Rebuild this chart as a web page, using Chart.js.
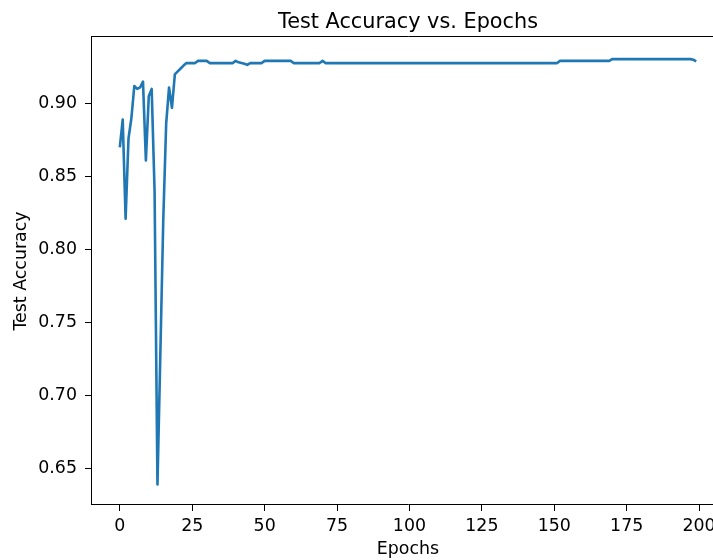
<!DOCTYPE html>
<html>
<head>
<meta charset="utf-8">
<script src="https://cdn.jsdelivr.net/npm/chart.js@4/dist/chart.umd.min.js"></script>
<style>
  html, body { margin: 0; padding: 0; overflow: hidden; background: #fff; width: 713px; height: 560px; }
  canvas { display: block; }
</style>
</head>
<body>
<canvas id="c" width="725" height="560" style="width:725px;height:560px"></canvas>
<script>
// ---- data ----
const chartTitle = 'Test Accuracy vs. Epochs';
const xAxisLabel = 'Epochs';
const yAxisLabel = 'Test Accuracy';

const epochs = Array.from({ length: 200 }, (_, i) => i);

const testAccuracy = [
  0.870, 0.889, 0.821, 0.876, 0.890, 0.912, 0.910, 0.911, 0.915, 0.861,
  0.905, 0.910, 0.840, 0.639, 0.729, 0.820, 0.886, 0.911, 0.897, 0.920,
  0.922, 0.924, 0.926, 0.9277, 0.9277, 0.9277, 0.9277, 0.9292, 0.9292, 0.9292,
  0.9292, 0.9277, 0.9277, 0.9277, 0.9277, 0.9277, 0.9277, 0.9277, 0.9277, 0.9277,
  0.9292, 0.9282, 0.9277, 0.9272, 0.9265, 0.9277, 0.9277, 0.9277, 0.9277, 0.9277,
  0.9292, 0.9292, 0.9292, 0.9292, 0.9292, 0.9292, 0.9292, 0.9292, 0.9292, 0.9292,
  0.9277, 0.9277, 0.9277, 0.9277, 0.9277, 0.9277, 0.9277, 0.9277, 0.9277, 0.9277,
  0.9292, 0.9277, 0.9277, 0.9277, 0.9277, 0.9277, 0.9277, 0.9277, 0.9277, 0.9277,
  0.9277, 0.9277, 0.9277, 0.9277, 0.9277, 0.9277, 0.9277, 0.9277, 0.9277, 0.9277,
  0.9277, 0.9277, 0.9277, 0.9277, 0.9277, 0.9277, 0.9277, 0.9277, 0.9277, 0.9277,
  0.9277, 0.9277, 0.9277, 0.9277, 0.9277, 0.9277, 0.9277, 0.9277, 0.9277, 0.9277,
  0.9277, 0.9277, 0.9277, 0.9277, 0.9277, 0.9277, 0.9277, 0.9277, 0.9277, 0.9277,
  0.9277, 0.9277, 0.9277, 0.9277, 0.9277, 0.9277, 0.9277, 0.9277, 0.9277, 0.9277,
  0.9277, 0.9277, 0.9277, 0.9277, 0.9277, 0.9277, 0.9277, 0.9277, 0.9277, 0.9277,
  0.9277, 0.9277, 0.9277, 0.9277, 0.9277, 0.9277, 0.9277, 0.9277, 0.9277, 0.9277,
  0.9277, 0.9277, 0.9292, 0.9292, 0.9292, 0.9292, 0.9292, 0.9292, 0.9292, 0.9292,
  0.9292, 0.9292, 0.9292, 0.9292, 0.9292, 0.9292, 0.9292, 0.9292, 0.9292, 0.9292,
  0.9304, 0.9304, 0.9304, 0.9304, 0.9304, 0.9304, 0.9304, 0.9304, 0.9304, 0.9304,
  0.9304, 0.9304, 0.9304, 0.9304, 0.9304, 0.9304, 0.9304, 0.9304, 0.9304, 0.9304,
  0.9304, 0.9304, 0.9304, 0.9304, 0.9304, 0.9304, 0.9304, 0.9304, 0.9300, 0.9288
];

const xTickValues = [0, 25, 50, 75, 100, 125, 150, 175, 200];
const yTickValues = [0.65, 0.70, 0.75, 0.80, 0.85, 0.90];

// ---- chart ----
const FONT = "'DejaVu Sans', sans-serif";
const X_MIN = -9.95, X_MAX = 208.95;
const Y_MIN = 0.6249, Y_MAX = 0.9456;

new Chart(document.getElementById('c').getContext('2d'), {
  type: 'line',
  data: {
    datasets: [{
      data: epochs.map((e, i) => ({ x: e, y: testAccuracy[i] })),
      borderColor: '#1f77b4',
      borderWidth: 2.6,
      pointRadius: 0,
      pointHoverRadius: 0,
      tension: 0,
      fill: false,
      borderJoinStyle: 'round',
      borderCapStyle: 'butt'
    }]
  },
  options: {
    responsive: false,
    animation: false,
    devicePixelRatio: 1,
    layout: { padding: 0 },
    plugins: {
      legend: { display: false },
      tooltip: { enabled: false },
      title: {
        display: true,
        text: chartTitle,
        fullSize: false,
        color: '#000',
        font: { family: FONT, size: 20.8, weight: 'normal' },
        padding: { top: 10, bottom: 2 }
      }
    },
    scales: {
      x: {
        type: 'linear',
        position: 'bottom',
        min: X_MIN,
        max: X_MAX,
        afterBuildTicks: s => { s.ticks = xTickValues.map(v => ({ value: v })); },
        afterFit: s => { s.height = 55; },
        grid: { display: true, drawOnChartArea: false, drawTicks: true, tickLength: 6, color: '#000', tickColor: '#000', lineWidth: 1 },
        border: { display: true, color: '#000', width: 1 },
        ticks: { color: '#000', font: { family: FONT, size: 17.4 }, padding: 5, maxRotation: 0, autoSkip: false, callback: v => String(v) },
        title: { display: true, text: xAxisLabel, color: '#000', font: { family: FONT, size: 17.4 }, padding: { top: 0, bottom: 0 } }
      },
      xTop: {
        type: 'linear',
        position: 'top',
        min: X_MIN,
        max: X_MAX,
        afterFit: s => { s.height = 0; },
        grid: { display: false, drawTicks: false },
        border: { display: true, color: '#000', width: 1 },
        ticks: { display: false }
      },
      y: {
        type: 'linear',
        position: 'left',
        min: Y_MIN,
        max: Y_MAX,
        afterBuildTicks: s => { s.ticks = yTickValues.map(v => ({ value: v })); },
        afterFit: s => { s.width = 91; },
        grid: { display: true, drawOnChartArea: false, drawTicks: true, tickLength: 6, color: '#000', tickColor: '#000', lineWidth: 1 },
        border: { display: true, color: '#000', width: 1 },
        ticks: { color: '#000', font: { family: FONT, size: 17.4 }, padding: 8, callback: v => Number(v).toFixed(2) },
        title: { display: true, text: yAxisLabel, color: '#000', font: { family: FONT, size: 17.4 }, padding: { top: 11, bottom: 0 } }
      }
    }
  }
});
</script>
</body>
</html>
